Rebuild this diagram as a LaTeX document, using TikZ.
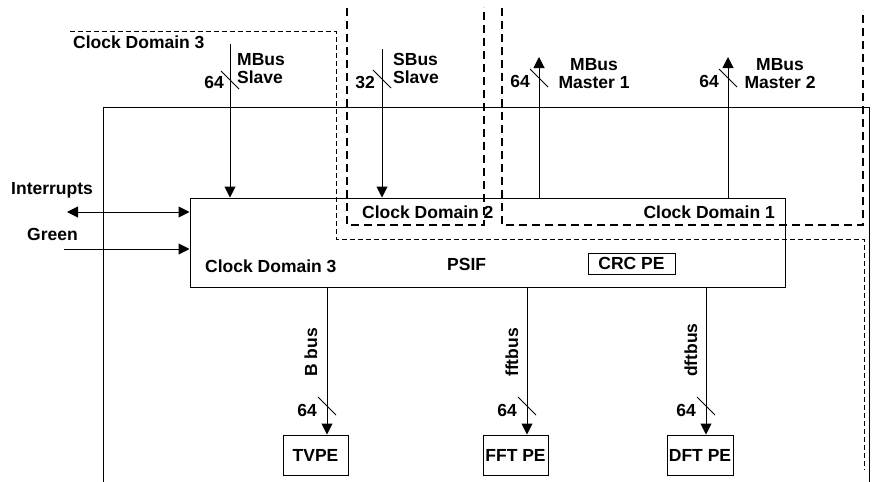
\documentclass[tikz,border=0pt]{standalone}
\usepackage{fontspec}
\setmainfont{Liberation Sans}
\usetikzlibrary{arrows.meta}
\tikzset{
  lbl/.style={inner sep=0pt, font=\bfseries\fontsize{17.5}{18.5}\selectfont},
  blk/.style={lbl, draw, line width=1pt, minimum width=65pt, minimum height=40pt},
  bus/.style={line width=1pt},
  cdthin/.style={line width=1pt, dash pattern=on 5pt off 3pt},
  cdthick/.style={line width=2.5pt, dash pattern=on 8pt off 5pt},
  busslash/.pic={\draw[line width=0.8pt] (-9,-9) -- (9,9);}
}
\begin{document}
\begin{tikzpicture}[x=1pt,y=-1pt,>={Triangle[length=11pt,width=11pt]}]
    \useasboundingbox (0,0) rectangle (873,482);
    % clock domains
    \draw [cdthin] (70,31) -- (336,31) -- (336,239) -- (864,239) -- (864,470);
    \draw [cdthick] (347,8) -- (347,225) -- (484,225) -- (484,7);
    \draw [cdthick] (502,8) -- (502,225) -- (863,225) -- (863,10);
    \draw [line width=1pt] (103,482) -- (103,107) -- (869,107) -- (869,482);
    % blocks
    \node [blk, minimum width=595pt, minimum height=89pt] (psif) at (487.5,242.5) {};
    \node [blk, minimum width=87pt, minimum height=21pt] (crc) at (631.5,263.5) {CRC PE};
    \node [blk] (tvpe) at (315.5,455) {TVPE};
    \node [blk] (fftpe) at (515.5,455) {FFT PE};
    \node [blk, minimum width=66pt] (dftpe) at (700,455) {DFT PE};
    % texts
    \node [lbl, anchor=base west] (cdthreetop) at (73,48) {Clock Domain 3};
    \node [lbl, anchor=base west] (cdtwo) at (362,218) {Clock Domain 2};
    \node [lbl, anchor=base east] (cdone) at (775,218) {Clock Domain 1};
    \node [lbl, anchor=base west] (cdthree) at (205,272) {Clock Domain 3};
    \node [lbl, anchor=base west] (psiflbl) at (447,270) {PSIF};
    \node [lbl, anchor=base west] (irqlbl) at (11,194) {Interrupts};
    \node [lbl, anchor=base west] (grnlbl) at (27,240) {Green};
    \node [lbl, anchor=north west, align=left] (msllbl) at (237,53) {MBus\\Slave};
    \node [lbl, anchor=north west, align=left] (ssllbl) at (393,53) {SBus\\Slave};
    \node [lbl, anchor=north, align=center] (mmonelbl) at (594,58) {MBus\\Master 1};
    \node [lbl, anchor=north, align=center] (mmtwolbl) at (780,58) {MBus\\Master 2};
    % bus end points
    \coordinate (msl) at (230,44);
    \coordinate (ssl) at (382,49);
    \coordinate (mmone) at (539,57);
    \coordinate (mmtwo) at (728,57);
    \coordinate (irq) at (67,212);
    \coordinate (grn) at (64,249);
    \coordinate (bb) at (327,0);
    \coordinate (fb) at (527,0);
    \coordinate (db) at (706,0);
    % buses
    \draw [bus,->] (msl) -- (msl |- psif.north);
    \draw [bus,->] (ssl) -- (ssl |- psif.north);
    \draw [bus,->] (mmone |- psif.north) -- (mmone);
    \draw [bus,->] (mmtwo |- psif.north) -- (mmtwo);
    \draw [bus,<->] (irq) -- (irq -| psif.west);
    \draw [bus,->] (grn) -- (grn -| psif.west);
    \draw [bus,->] (bb |- psif.south) -- (bb |- tvpe.north);
    \draw [bus,->] (fb |- psif.south) -- (fb |- fftpe.north);
    \draw [bus,->] (db |- psif.south) -- (db |- dftpe.north);
    % widths
    \pic at (230,80) {busslash};
    \pic at (382,79) {busslash};
    \pic at (539,78) {busslash};
    \pic at (728,78) {busslash};
    \pic at (327,406) {busslash};
    \pic at (527,406) {busslash};
    \pic at (706,406) {busslash};
    \node [lbl, anchor=base east] (wmsl) at (224,88) {64};
    \node [lbl, anchor=base east] (wssl) at (375,88) {32};
    \node [lbl, anchor=base east] (wmmone) at (530,87) {64};
    \node [lbl, anchor=base east] (wmmtwo) at (719,87) {64};
    \node [lbl, anchor=base east] (wbb) at (317,416) {64};
    \node [lbl, anchor=base east] (wfb) at (517,416) {64};
    \node [lbl, anchor=base east] (wdb) at (696,416) {64};
    \node [lbl, rotate=90, anchor=base west] (bblbl) at (317,377) {B bus};
    \node [lbl, rotate=90, anchor=base west] (fblbl) at (518,377) {fftbus};
    \node [lbl, rotate=90, anchor=base west] (dblbl) at (697,377) {dftbus};
\end{tikzpicture}
\end{document}
